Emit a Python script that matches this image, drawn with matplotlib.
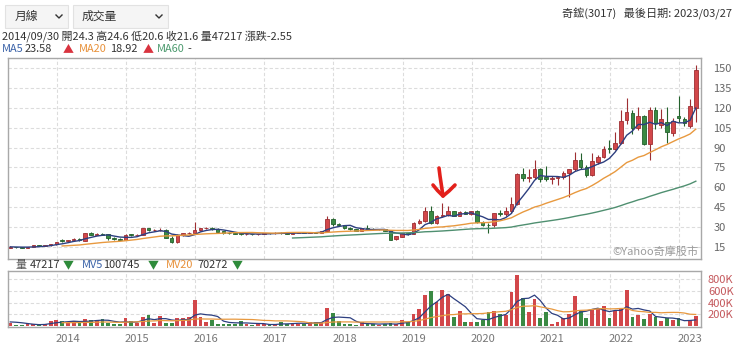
import numpy as np
import pandas as pd
import matplotlib
matplotlib.use('Agg')
from matplotlib import pyplot as plt
from matplotlib.patches import Rectangle

plt.rcParams['font.family'] = ['Noto Sans CJK TC', 'DejaVu Sans']

# monthly candles, 2013/04 .. 2023/03
months = pd.period_range('2013-04', '2023-03', freq='M')

opens = [14.6, 15.0, 14.8, 14.6, 14.9, 16.0, 15.9, 16.3, 17.0, 19.8,
         19.2, 20.0, 21.2, 19.8, 25.2, 24.4, 25.0, 24.3, 21.6, 21.0,
         20.6, 24.6, 24.0, 24.2, 28.8, 27.5, 27.6, 28.0, 22.0, 18.8,
         24.0, 25.2, 25.5, 28.0, 29.2, 29.4, 28.6, 26.6, 25.4, 25.3,
         25.1, 24.6, 24.8, 24.5, 24.9, 25.4, 25.2, 25.7, 25.3, 25.0,
         25.5, 25.9, 25.6, 26.2, 25.9, 27.0, 36.0, 32.2, 31.3, 29.0,
         28.2, 27.2, 28.8, 28.4, 28.2, 28.5, 27.4, 21.1, 22.9, 25.2,
         24.8, 32.9, 34.5, 42.0, 33.4, 38.4, 38.8, 41.7, 38.6, 41.5,
         40.2, 41.8, 33.6, 31.8, 31.4, 40.6, 40.2, 42.2, 47.5, 70.1,
         67.0, 68.0, 73.6, 67.5, 66.5, 67.0, 67.5, 70.5, 73.6, 80.6,
         75.0, 69.5, 79.4, 83.0, 89.4, 88.7, 93.2, 110.8, 115.8, 104.5,
         113.3, 92.7, 117.8, 107.0, 108.8, 101.2, 113.8, 111.3, 106.2, 119.8]
highs = [15.4, 15.3, 15.1, 15.2, 16.3, 16.4, 16.6, 17.2, 18.9, 20.8,
         20.3, 21.8, 21.5, 25.8, 26.0, 25.6, 25.4, 24.6, 22.4, 21.6,
         24.6, 25.0, 24.9, 29.5, 29.0, 28.3, 29.2, 28.2, 23.0, 24.5,
         25.6, 26.0, 34.0, 29.6, 30.2, 30.0, 29.0, 27.0, 26.0, 25.8,
         25.6, 25.2, 25.0, 25.1, 25.6, 25.7, 26.0, 26.1, 25.9, 25.8,
         26.2, 26.1, 26.5, 26.4, 27.3, 38.0, 36.5, 33.2, 31.6, 29.8,
         28.6, 29.2, 31.7, 29.0, 28.8, 28.9, 27.8, 23.2, 25.8, 25.7,
         33.5, 35.8, 45.5, 46.2, 38.8, 48.0, 46.0, 42.4, 42.0, 42.5,
         42.5, 43.0, 34.8, 33.2, 40.8, 43.0, 45.2, 53.0, 71.0, 74.3,
         74.0, 80.6, 74.5, 76.1, 68.5, 68.0, 72.0, 74.0, 86.9, 85.5,
         76.5, 85.5, 84.0, 91.5, 95.7, 102.0, 118.3, 127.1, 118.3, 120.8,
         114.5, 120.8, 120.8, 118.8, 120.8, 112.0, 128.9, 113.3, 126.4, 152.2]
lows = [14.3, 14.5, 14.3, 14.2, 14.8, 15.6, 15.7, 16.1, 16.8, 18.9,
        18.9, 19.8, 19.8, 19.5, 23.9, 24.0, 23.8, 20.6, 20.3, 20.2,
        20.3, 23.6, 23.8, 24.0, 26.8, 27.0, 27.2, 21.5, 18.0, 18.3,
        23.5, 24.5, 25.0, 27.2, 28.4, 28.0, 26.0, 24.8, 24.9, 24.8,
        24.0, 24.3, 24.2, 24.2, 24.6, 24.9, 25.0, 25.0, 24.8, 24.8,
        25.3, 25.2, 25.4, 25.6, 25.7, 26.8, 31.2, 30.5, 28.5, 27.6,
        26.8, 26.9, 28.0, 27.5, 27.6, 27.0, 20.0, 20.2, 22.5, 24.3,
        24.5, 32.0, 33.8, 32.5, 32.2, 37.5, 38.2, 38.0, 38.0, 40.0,
        39.5, 32.8, 30.5, 25.3, 30.2, 38.2, 38.0, 41.0, 46.5, 65.0,
        64.0, 66.5, 64.0, 65.0, 62.5, 62.0, 66.0, 53.0, 72.5, 74.0,
        68.0, 68.8, 77.5, 82.0, 85.5, 88.0, 92.5, 108.0, 100.0, 103.0,
        92.0, 80.6, 104.0, 104.5, 93.2, 99.0, 109.5, 106.5, 104.5, 109.5]
closes = [15.0, 14.8, 14.6, 14.9, 16.0, 15.9, 16.3, 17.0, 18.6, 19.2,
          20.0, 21.2, 20.3, 25.2, 24.4, 25.0, 24.3, 21.6, 21.0, 20.6,
          24.0, 24.0, 24.2, 28.8, 27.5, 27.6, 28.0, 22.0, 18.8, 24.0,
          25.2, 25.5, 28.0, 29.2, 29.4, 28.6, 26.6, 25.4, 25.3, 25.1,
          24.6, 24.8, 24.5, 24.9, 25.4, 25.2, 25.7, 25.3, 25.0, 25.5,
          25.9, 25.6, 26.2, 25.9, 27.0, 36.0, 32.2, 31.3, 29.0, 28.2,
          27.2, 28.8, 28.4, 28.2, 28.5, 27.4, 20.6, 22.9, 25.2, 24.8,
          32.9, 34.5, 42.0, 33.4, 38.4, 38.8, 41.7, 38.6, 41.5, 40.2,
          41.8, 33.6, 31.8, 31.4, 40.2, 40.2, 42.2, 47.5, 70.1, 67.0,
          68.0, 73.6, 66.0, 66.5, 67.0, 67.5, 70.5, 73.6, 80.6, 75.0,
          69.5, 79.4, 83.0, 88.5, 88.7, 93.2, 109.5, 116.3, 104.8, 113.3,
          92.7, 118.3, 108.3, 111.3, 102.0, 109.5, 112.0, 108.3, 120.8, 148.5]
# volume in thousands of lots
volumes = [55, 18, 15, 35, 40, 18, 35, 90, 110, 85,
           60, 80, 60, 120, 110, 110, 115, 47.217, 30, 40,
           134, 90, 55, 163, 193, 55, 175, 55, 50, 145,
           145, 160, 440, 160, 75, 105, 45, 45, 45, 45,
           93, 45, 16, 28, 34, 16, 45, 63, 34, 58,
           45, 45, 63, 75, 75, 310, 222, 93, 45, 45,
           16, 63, 45, 30, 20, 35, 60, 30, 105, 75,
           210, 300, 534, 605, 416, 622, 546, 163, 263, 63,
           75, 75, 105, 240, 252, 205, 193, 593, 880, 487,
           240, 457, 134, 234, 28, 75, 146, 210, 516, 263,
           146, 300, 310, 352, 134, 252, 300, 622, 152, 193,
           122, 210, 152, 87, 134, 105, 134, 8, 105, 181]

# history before the visible window (only feeds the moving averages)
closes_pre = [16.0, 15.6, 15.2, 15.0, 15.4, 15.8, 15.3, 15.1, 14.9, 15.2]
volumes_pre = [60, 50, 40, 70, 90, 55, 45, 60, 100, 100]

price_ticks = [15, 30, 45, 60, 75, 90, 105, 120, 135, 150]
vol_ticks = [200e3, 400e3, 600e3, 800e3]
vol_tick_labels = ['200K', '400K', '600K', '800K']

n = len(closes)
npre = len(closes_pre)
x = np.arange(n)
o = np.array(opens); h = np.array(highs); l = np.array(lows); c = np.array(closes)
v = np.array(volumes) * 1000

c_all = pd.Series(closes_pre + closes)
v_all = pd.Series(volumes_pre + volumes) * 1000
ma5 = c_all.rolling(5).mean().values[npre:]
ma20 = c_all.rolling(20).mean().values[npre:]
ma60 = c_all.rolling(60).mean().values[npre:]
mv5 = v_all.rolling(5).mean().values[npre:]
mv20 = v_all.rolling(20).mean().values[npre:]

RED, RED_E = '#d2474a', '#9e2f33'
GRN, GRN_E = '#3a8a44', '#24612c'
C_MA5, C_MA20, C_MA60 = '#2d3f80', '#e8993f', '#4f8f70'
GRID = '#dcdcdc'

up = c >= o
fc = np.where(up, RED, GRN)
ec = np.where(up, RED_E, GRN_E)

W, H = 740, 354
fig = plt.figure(figsize=(W / 100, H / 100), dpi=100)

def px_axes(x0, y0, x1, y1):
    return fig.add_axes([x0 / W, 1 - y1 / H, (x1 - x0) / W, (y1 - y0) / H])

ax = px_axes(8, 58, 701, 259)
axv = px_axes(8, 271, 701, 327)

# year grid
jan_idx = [i for i, m in enumerate(months) if m.month == 1]
for a in (ax, axv):
    for i in jan_idx:
        a.axvline(i - 0.9, color=GRID, lw=0.8, ls=(0, (3, 2)), zorder=0)
    a.set_xlim(-0.4, n - 0.1)
    for s in a.spines.values():
        s.set_color('#a8a8a8')
        s.set_linewidth(1.0)

# candles
ax.vlines(x, l, h, colors=ec, lw=0.8, zorder=2)
ax.bar(x, np.abs(c - o) + 0.15, bottom=np.minimum(o, c), width=0.62,
       color=fc, edgecolor=ec, linewidth=0.6, zorder=3)
ax.plot(x, ma5, color=C_MA5, lw=1.0, zorder=4)
ax.plot(x, ma20, color=C_MA20, lw=1.0, zorder=4)
ax.plot(x, ma60, color=C_MA60, lw=1.0, zorder=4)

ax.set_ylim(5.95, 157.5)
ax.set_yticks(price_ticks)
ax.yaxis.tick_right()
ax.tick_params(axis='y', length=0, pad=9, labelsize=8, labelcolor='#666')
for t in price_ticks:
    ax.axhline(t, color=GRID, lw=0.8, ls=(0, (3, 2)), zorder=0)
ax.set_xticks([])
ax.text(0.997, 0.012, '©Yahoo奇摩股市', transform=ax.transAxes, ha='right', va='bottom',
        fontsize=8, color='#9a9a9a')

# volume
axv.bar(x, v, width=0.66, color=fc, zorder=2)
axv.plot(x, mv5, color=C_MA5, lw=0.9, zorder=3)
axv.plot(x, mv20, color=C_MA20, lw=0.9, zorder=3)
axv.set_ylim(-15e3, 945e3)
axv.set_yticks(vol_ticks)
axv.set_yticklabels(vol_tick_labels)
axv.yaxis.tick_right()
axv.tick_params(axis='y', length=0, pad=5, labelsize=8, labelcolor='#c4585c')
for t in vol_ticks:
    axv.axhline(t, color=GRID, lw=0.8, ls=(0, (3, 2)), zorder=0)
axv.set_xticks([i + 1.0 for i in jan_idx])
axv.set_xticklabels([str(months[i].year) for i in jan_idx])
axv.tick_params(axis='x', length=0, pad=5, labelsize=8, labelcolor='#777')

# header overlay in pixel coordinates
ov = fig.add_axes([0, 0, 1, 1], zorder=10)
ov.set_xlim(0, W)
ov.set_ylim(H, 0)
ov.axis('off')
ov.patch.set_visible(False)

for bx0, bx1, label, tx in [(5, 68, '月線', 15), (73, 168, '成交量', 82)]:
    ov.add_patch(Rectangle((bx0, 5), bx1 - bx0, 23, fc='#f5f5f5', ec='#e2e2e2', lw=0.8))
    ov.text(tx, 16.5, label, fontsize=8.5, color='#333', va='center')
    cx = bx1 - 9
    ov.plot([cx - 3, cx, cx + 3], [15, 18, 15], color='#333', lw=1.0)

ov.text(732, 14, '奇鋐(3017)   最後日期: 2023/03/27', ha='right', va='center',
        fontsize=8, color='#333')
ov.text(2, 36, '2014/09/30 開24.3 高24.6 低20.6 收21.6 量47217 漲跌-2.55',
        va='center', fontsize=7.9, color='#333')

row2 = [(2, 'MA5', '#3a62a8'), (25, '23.58', '#333'), (63, '▲', '#d9333f'),
        (79, 'MA20', '#e8913a'), (110, '18.92', '#333'), (143, '▲', '#d9333f'),
        (157, 'MA60', '#4c9a6e'), (188, '-', '#333')]
for px, s, col in row2:
    ov.text(px, 49.5, s, va='center', fontsize=7.9, color=col)

row3 = [(16, '量', '#555'), (30, '47217', '#333'), (63, '▼', '#2e8b3a'),
        (82, 'MV5', '#3a62a8'), (103, '100745', '#333'), (148, '▼', '#2e8b3a'),
        (166, 'MV20', '#e8913a'), (197, '70272', '#333'), (232, '▼', '#2e8b3a')]
for px, s, col in row3:
    ov.text(px, 265, s, va='center', fontsize=7.9, color=col)

# hand-drawn red arrow
ov.plot([439, 440, 441.5, 443], [168, 176, 186, 196], color='#e3201b', lw=2.6,
        solid_capstyle='round', solid_joinstyle='round')
ov.plot([433, 437.5, 443, 449, 455], [185, 190.5, 196, 191, 185], color='#e3201b', lw=2.6,
        solid_capstyle='round', solid_joinstyle='round')

fig.savefig('out.png', dpi=100, facecolor='white')
